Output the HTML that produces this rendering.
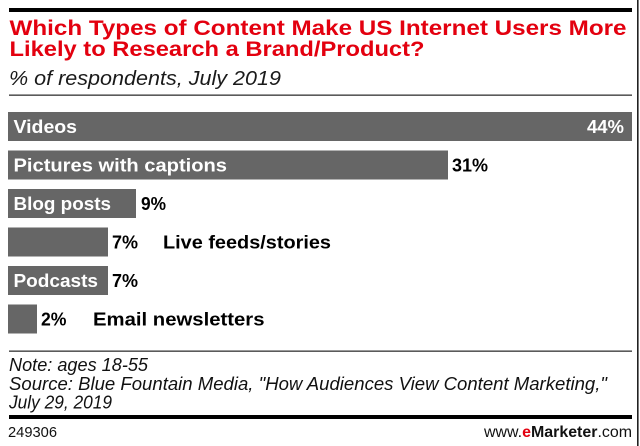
<!DOCTYPE html>
<html>
<head>
<meta charset="utf-8">
<style>
html,body{margin:0;padding:0;background:#fff;}
svg{display:block;}
text{font-family:"Liberation Sans",sans-serif;}
</style>
</head>
<body>
<svg width="640" height="446" viewBox="0 0 640 446" xmlns="http://www.w3.org/2000/svg">
<rect x="0" y="0" width="640" height="446" fill="#fff"/>
<rect x="637" y="0" width="1.6" height="446" fill="#222"/>
<rect x="9" y="8" width="623" height="4" fill="#000"/>
<text x="9.5" y="35" font-size="21" font-weight="bold" fill="#e3000f" textLength="617" lengthAdjust="spacingAndGlyphs">Which Types of Content Make US Internet Users More</text>
<text x="9.5" y="56" font-size="21" font-weight="bold" fill="#e3000f" textLength="415" lengthAdjust="spacingAndGlyphs">Likely to Research a Brand/Product?</text>
<text x="9" y="85" font-size="20" font-style="italic" fill="#1a1a1a" textLength="272" lengthAdjust="spacingAndGlyphs">% of respondents, July 2019</text>
<rect x="9" y="94.5" width="623" height="1.3" fill="#333"/>

<g fill="#666">
<rect x="8" y="112" width="624" height="29"/>
<rect x="8" y="150.5" width="440" height="29"/>
<rect x="8" y="189" width="128" height="29"/>
<rect x="8" y="227.5" width="100" height="29"/>
<rect x="8" y="266" width="100" height="29"/>
<rect x="8" y="304.5" width="29" height="29"/>
</g>
<g font-size="18" font-weight="bold">
<text x="13.5" y="133" fill="#fff" textLength="63.5" lengthAdjust="spacingAndGlyphs">Videos</text>
<text x="587" y="133" fill="#fff" textLength="37" lengthAdjust="spacingAndGlyphs">44%</text>
<text x="13.5" y="171.5" fill="#fff" textLength="213.5" lengthAdjust="spacingAndGlyphs">Pictures with captions</text>
<text x="452" y="171.5" fill="#000" textLength="36" lengthAdjust="spacingAndGlyphs">31%</text>
<text x="13.5" y="210" fill="#fff" textLength="97.5" lengthAdjust="spacingAndGlyphs">Blog posts</text>
<text x="141" y="210" fill="#000" textLength="25" lengthAdjust="spacingAndGlyphs">9%</text>
<text x="112" y="248.5" fill="#000" textLength="26" lengthAdjust="spacingAndGlyphs">7%</text>
<text x="163" y="248.5" fill="#000" textLength="168" lengthAdjust="spacingAndGlyphs">Live feeds/stories</text>
<text x="13.5" y="287" fill="#fff" textLength="84.5" lengthAdjust="spacingAndGlyphs">Podcasts</text>
<text x="112" y="287" fill="#000" textLength="26" lengthAdjust="spacingAndGlyphs">7%</text>
<text x="41" y="325.5" fill="#000" textLength="25.5" lengthAdjust="spacingAndGlyphs">2%</text>
<text x="93" y="325.5" fill="#000" textLength="171.5" lengthAdjust="spacingAndGlyphs">Email newsletters</text>
</g>

<rect x="9" y="350.5" width="623" height="1.3" fill="#333"/>
<g font-size="18" font-style="italic" fill="#111">
<text x="9" y="371" textLength="139" lengthAdjust="spacingAndGlyphs">Note: ages 18-55</text>
<text x="9" y="390" textLength="598" lengthAdjust="spacingAndGlyphs">Source: Blue Fountain Media, "How Audiences View Content Marketing,"</text>
<text x="9" y="408.5" textLength="103" lengthAdjust="spacingAndGlyphs">July 29, 2019</text>
</g>
<rect x="9" y="415" width="623" height="4" fill="#000"/>
<text x="8" y="437" font-size="15" fill="#111" textLength="49" lengthAdjust="spacingAndGlyphs">249306</text>
<text x="484" y="437" font-size="16" fill="#111" textLength="148" lengthAdjust="spacingAndGlyphs">www.<tspan fill="#e3000f" font-weight="bold">e</tspan><tspan font-weight="bold">Marketer</tspan>.com</text>
</svg>
</body>
</html>
